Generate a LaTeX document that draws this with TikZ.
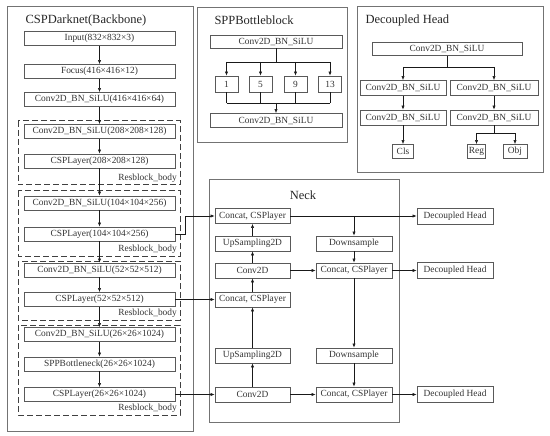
\documentclass[tikz,border=0pt]{standalone}
\usepackage{fontspec}
\setmainfont{Liberation Serif}
\usetikzlibrary{arrows.meta,positioning,calc}

\begin{document}
\begin{tikzpicture}[x=1pt, y=-1pt,
  blk/.style={draw=black!65, line width=0.8pt, fill=white, minimum height=14, inner sep=0pt,
    font=\fontsize{9.4}{10}\selectfont, text=black!80},
  panel/.style={draw=black!55, line width=0.8pt},
  resblk/.style={draw=black!75, line width=1pt, dash pattern=on 6pt off 3pt},
  title/.style={font=\fontsize{12.5}{14}\selectfont, text=black!85},
  link/.style={-{Latex[length=4pt,width=3.2pt]}, black!90, line width=0.5pt},
  lnk/.style={black!90, line width=0.5pt}
]
  \useasboundingbox (0,0) rectangle (550,436);

  % Backbone
  \draw[panel] (7,6) rectangle (193,431);
  \node[title, anchor=west] (bbt) at (22,20) {CSPDarknet(Backbone)};

  \draw[resblk] (18,121) rectangle (180,185);
  \draw[resblk] (18,191) rectangle (180,256);
  \draw[resblk] (18,261) rectangle (180,320);
  \draw[resblk] (18,325) rectangle (180,415);

  \node[blk, minimum width=151] (in)     at (99.5,38.5)  {Input(832×832×3)};
  \node[blk, minimum width=151] (focus)  at (99.5,71.5)  {Focus(416×416×12)};
  \node[blk, minimum width=151] (c416)   at (99.5,99.5)  {Conv2D\_BN\_SiLU(416×416×64)};
  \node[blk, minimum width=151] (c208)   at (99.5,131.5) {Conv2D\_BN\_SiLU(208×208×128)};
  \node[blk, minimum width=151] (csp208) at (99.5,161)   {CSPLayer(208×208×128)};
  \node[blk, minimum width=151] (c104)   at (99.5,203)   {Conv2D\_BN\_SiLU(104×104×256)};
  \node[blk, minimum width=151] (csp104) at (99.5,234)   {CSPLayer(104×104×256)};
  \node[blk, minimum width=151] (c52)    at (99.5,270)   {Conv2D\_BN\_SiLU(52×52×512)};
  \node[blk, minimum width=151] (csp52)  at (99.5,299.5) {CSPLayer(52×52×512)};
  \node[blk, minimum width=151] (c26)    at (99.5,334.5) {Conv2D\_BN\_SiLU(26×26×1024)};
  \node[blk, minimum width=151] (spp26)  at (99.5,364)   {SPPBottleneck(26×26×1024)};
  \node[blk, minimum width=151] (csp26)  at (99.5,394.5) {CSPLayer(26×26×1024)};

  \foreach \a/\b in {in/focus, focus/c416, c416/c208, c208/csp208, csp208/c104,
    c104/csp104, csp104/c52, c52/csp52, csp52/c26, c26/spp26, spp26/csp26}
    {\draw[link] (\a) -- (\b);}

  \foreach \nm/\yy in {rb1/178, rb2/249.5, rb3/313, rb4/408.5}
    {\node[font=\fontsize{9.4}{10}\selectfont, text=black!80, anchor=east, inner sep=0pt] (\nm) at (177,\yy) {Resblock\_body};}

  % SPPBottleblock
  \draw[panel] (197,7) rectangle (347,142);
  \node[title, anchor=west] (sppt) at (211,20) {SPPBottleblock};
  \node[blk, minimum width=132, minimum height=13] (sppA) at (276,41.5) {Conv2D\_BN\_SiLU};
  \node[blk, minimum width=132, minimum height=14] (sppB) at (276,120.5) {Conv2D\_BN\_SiLU};
  \foreach \nm/\xx/\kk in {k1/226.5/1, k5/260.5/5, k9/295.5/9, k13/330/13}
    {\node[blk, minimum width=23, minimum height=16] (\nm) at (\xx,84) {\kk};}
  \coordinate (sppsplit) at (276,62);
  \coordinate (sppjoin) at (276,103);
  \draw[lnk] (sppA) -- (sppsplit);
  \draw[lnk] (sppsplit -| k1) -- (sppsplit -| k13);
  \draw[lnk] (sppjoin -| k1) -- (sppjoin -| k13);
  \foreach \nm in {k1,k5,k9,k13}
    {\draw[link] (sppsplit -| \nm) -- (\nm);
     \draw[lnk] (\nm) -- (sppjoin -| \nm);}
  \draw[link] (sppjoin) -- (sppB);

  % Decoupled Head
  \draw[panel] (357,6) rectangle (543,172);
  \node[title, anchor=west] (dht) at (362,20) {Decoupled Head};
  \node[blk, minimum width=150, minimum height=13] (dhA) at (447,49) {Conv2D\_BN\_SiLU};
  \node[blk, minimum width=86, minimum height=15] (dhL1) at (403,88) {Conv2D\_BN\_SiLU};
  \node[blk, minimum width=88, minimum height=15] (dhR1) at (494,88) {Conv2D\_BN\_SiLU};
  \node[blk, minimum width=86, minimum height=15] (dhL2) at (403,117.5) {Conv2D\_BN\_SiLU};
  \node[blk, minimum width=88, minimum height=15] (dhR2) at (494,117.5) {Conv2D\_BN\_SiLU};
  \node[blk, minimum width=21, minimum height=14] (cls) at (403,151.5) {Cls};
  \node[blk, minimum width=18, minimum height=14] (reg) at (476.5,151.5) {Reg};
  \node[blk, minimum width=24, minimum height=14] (obj) at (515,151.5) {Obj};
  \coordinate (dhsplit) at (447,67);
  \coordinate (rosplit) at (494,133.5);
  \draw[lnk] (dhA) -- (dhsplit);
  \draw[lnk] (dhsplit -| dhL1) -- (dhsplit -| dhR1);
  \draw[link] (dhsplit -| dhL1) -- (dhL1);
  \draw[link] (dhsplit -| dhR1) -- (dhR1);
  \draw[link] (dhL1) -- (dhL2);
  \draw[link] (dhR1) -- (dhR2);
  \draw[link] (dhL2) -- (cls);
  \draw[lnk] (dhR2) -- (rosplit);
  \draw[lnk] (rosplit -| reg) -- (rosplit -| obj);
  \draw[link] (rosplit -| reg) -- (reg);
  \draw[link] (rosplit -| obj) -- (obj);

  % Neck
  \draw[panel] (209,179) rectangle (399,422);
  \node[title] (neckt) at (303,195) {Neck};
  \node[blk, minimum width=75, minimum height=15] (ncat1)  at (252.5,216)   {Concat, CSPlayer};
  \node[blk, minimum width=75, minimum height=15] (nup1)   at (252.5,243.5) {UpSampling2D};
  \node[blk, minimum width=75, minimum height=15] (nconv1) at (252.5,270.5) {Conv2D};
  \node[blk, minimum width=75, minimum height=15] (ncat2)  at (252.5,299.5) {Concat, CSPlayer};
  \node[blk, minimum width=75, minimum height=15] (nup2)   at (252.5,355.5) {UpSampling2D};
  \node[blk, minimum width=75, minimum height=15] (nconv2) at (252.5,394.5) {Conv2D};
  \node[blk, minimum width=76, minimum height=15] (ndown1) at (354,243.5) {Downsample};
  \node[blk, minimum width=76, minimum height=15] (ncatR1) at (354,270.5) {Concat, CSPlayer};
  \node[blk, minimum width=76, minimum height=15] (ndown2) at (354,355.5) {Downsample};
  \node[blk, minimum width=76, minimum height=15] (ncatR2) at (354,394.5) {Concat, CSPlayer};

  \node[blk, minimum width=76, minimum height=16] (dho1) at (455,216)   {Decoupled Head};
  \node[blk, minimum width=76, minimum height=16] (dho2) at (455,270.5) {Decoupled Head};
  \node[blk, minimum width=76, minimum height=16] (dho3) at (455,394.5) {Decoupled Head};

  \foreach \a/\b in {nconv2/nup2, nup2/ncat2, ncat2/nconv1, nconv1/nup1, nup1/ncat1,
    ndown1/ncatR1, ncatR1/ndown2, ndown2/ncatR2, nconv1/ncatR1, nconv2/ncatR2,
    ncat1/dho1, ncatR1/dho2, ncatR2/dho3}
    {\draw[link] (\a) -- (\b);}
  \draw[link] (ncat1 -| ndown1) -- (ndown1);

  % Backbone -> Neck
  \draw[link] (csp104.east) -- ++(10,0) |- (ncat1.west);
  \draw[link] (csp52) -- (ncat2);
  \draw[link] (csp26) -- (nconv2);
\end{tikzpicture}
\end{document}
